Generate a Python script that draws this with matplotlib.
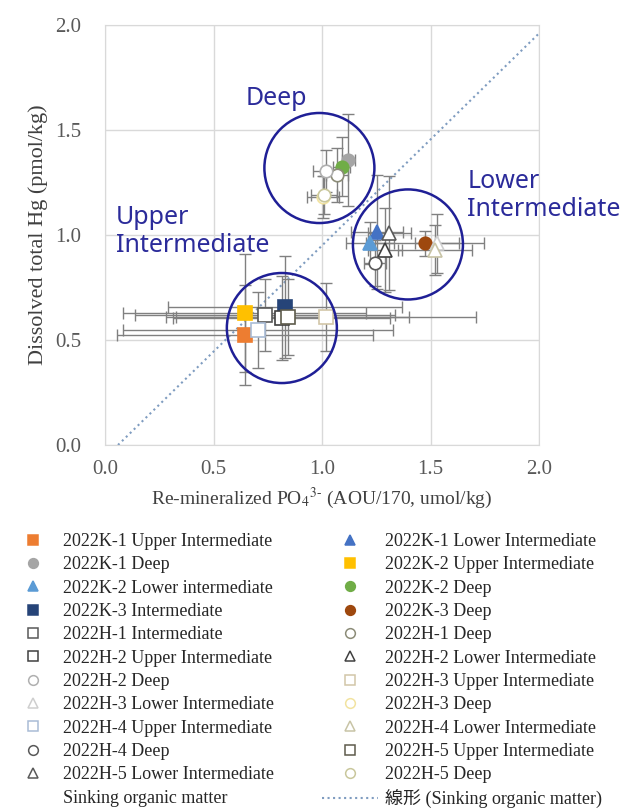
import matplotlib
matplotlib.use("Agg")
import matplotlib.pyplot as plt
from matplotlib.lines import Line2D
from matplotlib.patches import Ellipse

# series, in the order of the Excel legend (read row by row)
series = ["2022K-1 Upper Intermediate", "2022K-1 Lower Intermediate",
          "2022K-1 Deep", "2022K-2 Upper Intermediate",
          "2022K-2 Lower intermediate", "2022K-2 Deep",
          "2022K-3 Intermediate", "2022K-3 Deep",
          "2022H-1 Intermediate", "2022H-1 Deep",
          "2022H-2 Upper Intermediate", "2022H-2 Lower Intermediate",
          "2022H-2 Deep", "2022H-3 Upper Intermediate",
          "2022H-3 Lower Intermediate", "2022H-3 Deep",
          "2022H-4 Upper Intermediate", "2022H-4 Lower Intermediate",
          "2022H-4 Deep", "2022H-5 Upper Intermediate",
          "2022H-5 Lower Intermediate", "2022H-5 Deep"]

# re-mineralized PO4 (AOU/170, umol/kg) and dissolved total Hg (pmol/kg)
po4 = [0.645, 1.253, 1.12, 0.645, 1.22, 1.09, 0.829, 1.475, 0.737, 1.07, 0.815,
       1.29, 1.02, 1.018, 1.53, 1.005, 0.705, 1.52, 1.245, 0.843, 1.31, 1.01]
hg = [0.524, 1.014, 1.357, 0.63, 0.96, 1.325, 0.657, 0.96, 0.62, 1.286, 0.605,
      0.93, 1.305, 0.61, 0.96, 1.18, 0.548, 0.93, 0.867, 0.61, 1.01, 1.19]
po4_err = [0.59, 0.12, 0.03, 0.56, 0.11, 0.04, 0.54, 0.27, 0.6, 0.05, 0.5,
           0.08, 0.06, 0.69, 0.1, 0.075, 0.62, 0.17, 0.05, 0.56, 0.1, 0.06]
hg_err = [0.24, 0.27, 0.22, 0.28, 0.1, 0.14, 0.245, 0.06, 0.17, 0.13, 0.2,
          0.2, 0.1, 0.16, 0.14, 0.1, 0.18, 0.12, 0.11, 0.18, 0.27, 0.09]

# sinking organic matter trend line (linear)
sink_x = [0.06, 2.0]
sink_y = [0.0, 1.96]
sink_labels = ["Sinking organic matter", "線形 (Sinking organic matter)"]

# water mass groups circled on the chart
group_names = ["Deep", "Lower\nIntermediate", "Upper\nIntermediate"]
group_x = [0.988, 1.396, 0.815]
group_y = [1.319, 0.955, 0.557]
group_text_x = [0.79, 1.67, 0.05]
group_text_y = [1.65, 1.19, 1.015]

ticks = [0.0, 0.5, 1.0, 1.5, 2.0]

# styles
markers = ['s', '^', 'o', 's', '^', 'o', 's', 'o', 's', 'o', 's',
           '^', 'o', 's', '^', 'o', 's', '^', 'o', 's', '^', 'o']
faces = ['#ED7D31', '#4472C4', '#A5A5A5', '#FFC000', '#5B9BD5', '#70AD47',
         '#264478', '#9E480E'] + ['white'] * 14
edges = ['#ED7D31', '#4472C4', '#A5A5A5', '#FFC000', '#5B9BD5', '#70AD47',
         '#264478', '#9E480E',
         '#595959', '#8C8C78', '#404040', '#404040', '#B0B0B0', '#D2C6A8',
         '#CFCFCF', '#F2E3A0', '#A9BCD6', '#C8C4A6', '#595959', '#5E5B4C',
         '#595959', '#C9C79C']
circle_color = '#1F1F96'
grid_color = '#D9D9D9'
err_color = '#808080'

plt.rcParams['font.family'] = ['Liberation Serif', 'Noto Sans CJK JP']
plt.rcParams['mathtext.fontset'] = 'stix'

fig = plt.figure(figsize=(6.27, 8.11), dpi=100)
ax = fig.add_axes([105 / 627, 366 / 811, 434 / 627, 420 / 811])

for i, name in enumerate(series):
    ax.errorbar(po4[i], hg[i], xerr=po4_err[i], yerr=hg_err[i], fmt='none',
                ecolor=err_color, elinewidth=1.0, capsize=4, capthick=1.0,
                zorder=3)
    ax.plot(po4[i], hg[i], marker=markers[i], linestyle='none',
            markersize=9.5 if markers[i] != 'o' else 9,
            markerfacecolor=faces[i], markeredgecolor=edges[i],
            markeredgewidth=1.2, zorder=4)

ax.plot(sink_x, sink_y, linestyle=':', color='#7F9CC0', linewidth=1.5, zorder=2)

for name, cx, cy, tx, ty in zip(group_names, group_x, group_y, group_text_x, group_text_y):
    ax.add_patch(Ellipse((cx, cy), 0.507, 0.524, fill=False,
                         edgecolor=circle_color, linewidth=1.8, zorder=5))
    ax.text(tx, ty, name, color='#2B2B9A', fontsize=18, family='Noto Sans',
            ha='left' if '\n' in name else 'center', va='center',
            linespacing=1.15, zorder=6)

ax.set_xlim(0, 2)
ax.set_ylim(0, 2)
ax.set_xticks(ticks)
ax.set_yticks(ticks)
ax.set_xticklabels([f"{t:.1f}" for t in ticks])
ax.set_yticklabels([f"{t:.1f}" for t in ticks])
ax.tick_params(length=0, labelsize=15, labelcolor='#595959')
ax.tick_params(axis='x', pad=11)
ax.tick_params(axis='y', pad=17)
ax.grid(True, color=grid_color, linewidth=1.0)
ax.set_axisbelow(True)
for sp in ax.spines.values():
    sp.set_color(grid_color)

ax.set_xlabel("Re-mineralized PO$_4$$^{3\u2010}$ (AOU/170, umol/kg)",
              fontsize=14, color='#404040', labelpad=5)
ax.set_ylabel("Dissolved total Hg (pmol/kg)", fontsize=16,
              color='#404040', labelpad=5)

# legend, two columns laid out row by row like Excel
handles = []
for i in range(len(series)):
    handles.append(Line2D([], [], marker=markers[i], linestyle='none',
                          markersize=7, markerfacecolor=faces[i],
                          markeredgecolor=edges[i], markeredgewidth=1.1))
handles.append(Line2D([], [], linestyle='none', marker='None'))
handles.append(Line2D([], [], linestyle=':', color='#7F9CC0', linewidth=1.5))
labels = series + sink_labels

left = list(range(0, len(labels), 2))
right = list(range(1, len(labels), 2))
fs = 13.0
common = dict(loc='upper left', frameon=False, fontsize=fs,
              labelspacing=0.35, borderpad=0, borderaxespad=0,
              labelcolor='#262626')
em = fs * 100 / 72
fig.legend([handles[i] for i in left], [labels[i] for i in left],
           bbox_to_anchor=(22 / 627, 1 - 533 / 811),
           handlelength=22 / em, handletextpad=19 / em, **common)
fig.legend([handles[i] for i in right], [labels[i] for i in right],
           bbox_to_anchor=(322 / 627, 1 - 533 / 811),
           handlelength=56 / em, handletextpad=7 / em, **common)

fig.savefig("out.png", dpi=100)
